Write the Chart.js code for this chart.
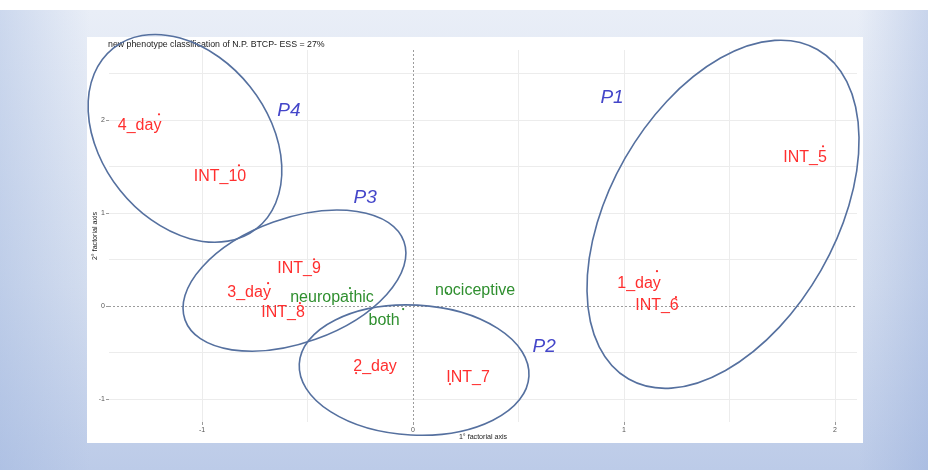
<!DOCTYPE html>
<html><head><meta charset="utf-8">
<script src="https://cdn.jsdelivr.net/npm/chart.js@4"></script>
<style>html,body{margin:0;padding:0;background:#fff}#wrap{width:928px;height:470px}</style>
</head><body><div id="wrap"><canvas id="c" width="928" height="470"></canvas></div>
<script>
// ---- data ----
const chartTitle = 'new phenotype classification of N.P. BTCP- ESS = 27%';
const xAxisTitle = '1° factorial axis';
const yAxisTitle = '2° factorial axis';
const xTickValues = [-1, 0, 1, 2];
const yTickValues = [-1, 0, 1, 2];

const pointNames = ['4_day','INT_10','INT_9','3_day','INT_8','neuropathic','both','nociceptive','2_day','INT_7','INT_5','1_day','INT_6'];
const pointKind  = ['sample','sample','sample','sample','sample','phenotype','phenotype','phenotype','sample','sample','sample','sample','sample'];
const pointX = [-1.204,-0.825,-0.469,-0.687,-0.536,-0.299,-0.047, 0.161,-0.270, 0.175, 1.943, 1.156, 1.246];
const pointY = [ 2.065, 1.516, 0.505, 0.247, 0.032, 0.194,-0.032, 0.140,-0.720,-0.839, 1.720, 0.376, 0.097];
const labelX = [-1.296,-0.915,-0.540,-0.777,-0.616,-0.384,-0.137, 0.294,-0.180, 0.261, 1.858, 1.071, 1.156];
const labelY = [ 1.946, 1.398, 0.409, 0.151,-0.065, 0.097,-0.151, 0.172,-0.656,-0.774, 1.602, 0.247, 0.011];

const clusterNames  = ['P1','P2','P3','P4'];
const clusterCX     = [1.469, 0.005,-0.562,-1.081];
const clusterCY     = [0.989,-0.688, 0.274, 1.806];
const clusterRA     = [0.900, 0.545, 0.551, 0.546];
const clusterRB     = [0.535, 0.308, 0.295, 0.394];
const clusterAngle  = [-60.2, 3, -19.7, 51.4];
const clusterLabelX = [0.943, 0.621,-0.227,-0.588];
const clusterLabelY = [2.247,-0.441, 1.172, 2.108];

const X_MIN = -1.441, X_MAX = 2.104, Y_MIN = -1.247, Y_MAX = 2.757;

// ---- styles ----
const kindColor = {sample:'#ff2f2f', phenotype:'#2f8f2f'};
const FONT = "'Liberation Sans', Arial, sans-serif";

const bgPlugin = {
  id:'bg',
  beforeDraw(chart){
    const c = chart.ctx, W = chart.width, H = chart.height;
    c.save();
    c.fillStyle = '#ffffff'; c.fillRect(0,0,W,H);
    const g = c.createLinearGradient(0,10,0,H);
    g.addColorStop(0,'#e9eef7'); g.addColorStop(0.6,'#d3ddef'); g.addColorStop(1,'#bccbe8');
    c.fillStyle = g; c.fillRect(0,10,W,H-10);
    const gl = c.createLinearGradient(0,0,90,0);
    gl.addColorStop(0,'rgba(150,175,220,0.35)'); gl.addColorStop(1,'rgba(150,175,220,0)');
    c.fillStyle = gl; c.fillRect(0,10,90,H-10);
    const gr = c.createLinearGradient(W,0,W-70,0);
    gr.addColorStop(0,'rgba(140,165,215,0.35)'); gr.addColorStop(1,'rgba(140,165,215,0)');
    c.fillStyle = gr; c.fillRect(W-70,10,70,H-10);
    c.fillStyle = '#ffffff';
    c.fillRect(87,37,776,406);
    c.fillStyle = '#1a1a1a';
    c.font = '8.8px ' + FONT;
    c.textBaseline = 'middle'; c.textAlign = 'left';
    c.fillText(chartTitle, 108, 45);
    c.restore();
  },
  beforeDatasetsDraw(chart){
    const c = chart.ctx, a = chart.chartArea, xs = chart.scales.x, ys = chart.scales.y;
    c.save();
    c.strokeStyle = '#9c9c9c'; c.lineWidth = 1; c.setLineDash([2,2]);
    const x0 = Math.round(xs.getPixelForValue(0)) + 0.5;
    const y0 = Math.round(ys.getPixelForValue(0)) + 0.5;
    c.beginPath(); c.moveTo(x0,a.top); c.lineTo(x0,a.bottom); c.stroke();
    c.beginPath(); c.moveTo(a.left,y0); c.lineTo(a.right,y0); c.stroke();
    c.restore();
  },
  afterDatasetsDraw(chart){
    const c = chart.ctx, xs = chart.scales.x, ys = chart.scales.y;
    const unit = xs.getPixelForValue(1) - xs.getPixelForValue(0);
    c.save();
    c.font = '16px ' + FONT; c.textAlign = 'center'; c.textBaseline = 'middle';
    pointNames.forEach((n,i)=>{
      c.fillStyle = kindColor[pointKind[i]];
      c.fillText(n, xs.getPixelForValue(labelX[i]), ys.getPixelForValue(labelY[i]));
    });
    c.strokeStyle = '#55709f'; c.lineWidth = 1.6;
    clusterNames.forEach((n,i)=>{
      c.beginPath();
      c.ellipse(xs.getPixelForValue(clusterCX[i]), ys.getPixelForValue(clusterCY[i]),
                clusterRA[i]*unit, clusterRB[i]*unit, clusterAngle[i]*Math.PI/180, 0, Math.PI*2);
      c.stroke();
    });
    c.fillStyle = '#4446c9';
    c.font = 'italic 19px ' + FONT;
    clusterNames.forEach((n,i)=>{
      c.fillText(n, xs.getPixelForValue(clusterLabelX[i]), ys.getPixelForValue(clusterLabelY[i]));
    });
    c.restore();
  }
};

const near = (arr, v) => arr.some(t => Math.abs(t - v) < 1e-6);

new Chart(document.getElementById('c'), {
  type:'scatter',
  data:{
    datasets:[{
      data: pointX.map((x,i)=>({x, y:pointY[i]})),
      pointRadius: 1.1,
      pointBackgroundColor: pointKind.map(k=>kindColor[k]),
      pointBorderWidth: 0,
      showLine:false
    }]
  },
  options:{
    responsive:false, animation:false, devicePixelRatio:1,
    layout:{padding:{left:88, right:71, top:50, bottom:28}},
    plugins:{legend:{display:false}, tooltip:{enabled:false}},
    scales:{
      x:{
        type:'linear', min:X_MIN, max:X_MAX,
        afterFit: s => { s.height = 20; },
        border:{display:false},
        grid:{
          color: ctx => (ctx.tick && Math.abs(ctx.tick.value) < 1e-6) ? 'rgba(0,0,0,0)' : '#ececec',
          tickColor: ctx => (ctx.tick && near(xTickValues, ctx.tick.value)) ? '#9a9a9a' : 'rgba(0,0,0,0)',
          tickLength:3, lineWidth:1
        },
        ticks:{stepSize:0.5, includeBounds:false, padding:1, maxRotation:0, autoSkip:false,
          color:'#555', font:{size:7, family:FONT},
          callback: v => near(xTickValues, v) ? String(Math.round(v)) : ''},
        title:{display:true, text:xAxisTitle, color:'#222', font:{size:7.1, family:FONT}, padding:{top:0,bottom:1}}
      },
      y:{
        type:'linear', min:Y_MIN, max:Y_MAX,
        afterFit: s => { s.width = 21; },
        border:{display:false},
        grid:{
          color: ctx => (ctx.tick && Math.abs(ctx.tick.value) < 1e-6) ? 'rgba(0,0,0,0)' : '#ececec',
          tickColor: ctx => (ctx.tick && near(yTickValues, ctx.tick.value)) ? '#9a9a9a' : 'rgba(0,0,0,0)',
          tickLength:3, lineWidth:1
        },
        ticks:{stepSize:0.5, includeBounds:false, padding:1, autoSkip:false,
          color:'#555', font:{size:7, family:FONT},
          callback: v => near(yTickValues, v) ? String(Math.round(v)) : ''},
        title:{display:true, text:yAxisTitle, color:'#222', font:{size:7.1, family:FONT}, padding:{top:3,bottom:0}}
      }
    }
  },
  plugins:[bgPlugin]
});
</script></body></html>
